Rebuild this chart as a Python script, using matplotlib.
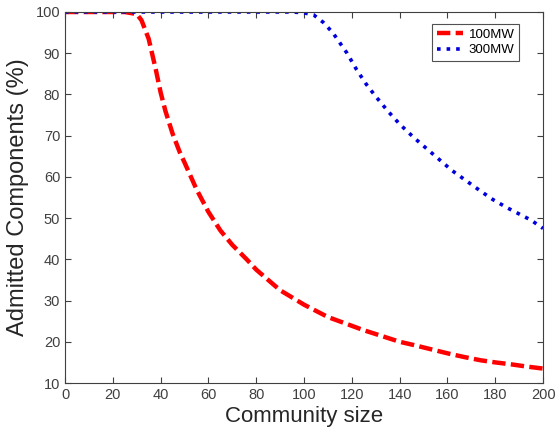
import matplotlib
matplotlib.use("Agg")
import matplotlib.pyplot as plt

# Values
size_100 = [0, 25, 30, 32, 35, 38, 40, 42, 45, 48, 50, 55, 60, 65, 70, 76, 80, 90, 100,
            110, 118, 125, 132, 140, 146, 153, 160, 167, 174, 180, 187, 193, 200]
admit_100 = [100, 100, 99.5, 98, 93.5, 86, 80.5, 76, 70.5, 66, 63.5, 57, 51.5, 47, 43.5, 40,
             37.5, 32.5, 29, 26, 24.3, 22.8, 21.5, 20, 19.2, 18.2, 17.2, 16.3, 15.5, 15,
             14.5, 14, 13.5]

size_300 = [0, 95, 100, 104, 108, 112, 115, 118, 122, 126, 130, 135, 140, 146, 150, 157,
            162, 168, 174, 179, 185, 190, 195, 200]
admit_300 = [100, 100, 99.8, 99.3, 97.5, 95, 92.5, 90, 86, 82.5, 79.5, 76, 72.8, 69.5, 67.5, 64,
             61.5, 59, 56.5, 54.5, 52.5, 51, 49.5, 47.5]

plt.rcParams['font.family'] = ['Liberation Sans', 'DejaVu Sans']

fig = plt.figure(figsize=(5.57, 4.41), dpi=100)
ax = fig.add_axes([0.1167, 0.1315, 0.8583, 0.8413])

ax.plot(size_100, admit_100, color='#ff0000', linestyle='--', linewidth=3.2,
        dashes=(3, 1.2), label='100MW')
ax.plot(size_300, admit_300, color='#0000dd', linestyle=':', linewidth=2.6,
        label='300MW')

ax.set_xlim(0, 200)
ax.set_ylim(10, 100)
ax.set_xticks(range(0, 201, 20))
ax.set_yticks(range(10, 101, 10))
ax.tick_params(direction='in', top=True, right=True, labelsize=10.5, colors='#404040',
               length=4, width=0.8)
for s in ax.spines.values():
    s.set_color('#404040')
    s.set_linewidth(0.8)

ax.set_xlabel('Community size', fontsize=16, color='#262626', labelpad=3)
ax.set_ylabel('Admitted Components (%)', fontsize=17, color='#262626', labelpad=5)

leg = ax.legend(loc='upper right', fontsize=9.5, frameon=True, fancybox=False,
                handlelength=2.0, borderaxespad=0.9, labelspacing=0.25,
                borderpad=0.35, handletextpad=0.4, bbox_to_anchor=(0.975, 1.0))
leg.get_frame().set_edgecolor('#262626')
leg.get_frame().set_linewidth(0.8)

fig.savefig('out.png', dpi=100)
